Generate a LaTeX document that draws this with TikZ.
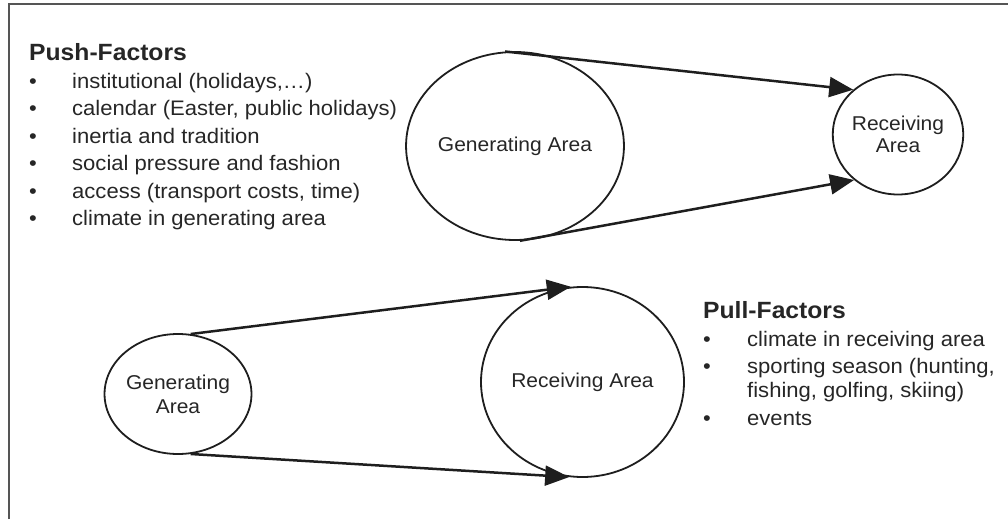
\documentclass[tikz,border=0pt]{standalone}
\usepackage{fontspec}
\setmainfont{Liberation Sans}
\newfontfamily\bodyfont[FakeStretch=1.05]{Liberation Sans}
\usetikzlibrary{arrows.meta,shapes.geometric}

\definecolor{ink}{HTML}{1E1E1E}
\definecolor{txt}{HTML}{262626}
\definecolor{framegray}{HTML}{555555}

\tikzset{
  frame/.style={draw=framegray, line width=2.2pt},
  area/.style={ellipse, draw=ink, line width=1.8pt, inner sep=0pt,
    align=center, text=txt, font=\bodyfont\fontsize{20}{22}\selectfont},
  bigarea/.style={area, minimum width=204pt, minimum height=188pt},
  smallarea/.style={area, minimum width=114pt, minimum height=120pt},
  flow/.style={draw=ink, line width=2.5pt,
    -{Triangle[length=24pt, width=20pt]}},
  heading/.style={anchor=base west, inner sep=0pt, text=txt,
    font=\bodyfont\fontsize{23.5}{26}\selectfont\bfseries},
  item/.style={anchor=base west, inner sep=0pt, text=txt,
    font=\bodyfont\fontsize{21}{24}\selectfont},
  dot/.style={anchor=base, inner sep=0pt, text=txt,
    font=\bodyfont\fontsize{21}{24}\selectfont}
}

\begin{document}
\begin{tikzpicture}[x=1pt, y=-1pt]
\useasboundingbox (0,0) rectangle (1008,519);

% frame (top and left edges)
\draw[frame] (9,519) -- (9,4) -- (1008,4);

% push factors
\node[heading] (pushhead) at (29,60) {Push-Factors};
\node[dot]  (pushdot1)  at (33,88)   {•};
\node[item] (pushitem1) at (72,88)   {institutional (holidays,\dots)};
\node[dot]  (pushdot2)  at (33,115.5) {•};
\node[item] (pushitem2) at (72,115.5) {calendar (Easter, public holidays)};
\node[dot]  (pushdot3)  at (33,143)  {•};
\node[item] (pushitem3) at (72,143)  {inertia and tradition};
\node[dot]  (pushdot4)  at (33,170.5) {•};
\node[item] (pushitem4) at (72,170.5) {social pressure and fashion};
\node[dot]  (pushdot5)  at (33,198)  {•};
\node[item] (pushitem5) at (72,198)  {access (transport costs, time)};
\node[dot]  (pushdot6)  at (33,225.5) {•};
\node[item] (pushitem6) at (72,225.5) {climate in generating area};

% upper pair: large generating area, small receiving area
\node[bigarea] (genA) at (515,146) {Generating Area};
\node[smallarea] (recA) at (898,134.5) {Receiving\\Area};
\draw[flow] (genA.96) -- (recA.135);
\draw[flow] (genA.273) -- (recA.226);

% lower pair: small generating area, large receiving area
\node[smallarea] (genB) at (178,394) {Generating\\[2pt]Area};
\node[bigarea, minimum width=203pt, minimum height=190pt] (recB) at (582.5,382) {Receiving Area};
\draw[flow] (genB.78) -- (recB.97.6);
\draw[flow] (genB.282) -- (recB.262.4);

% pull factors
\node[heading] (pullhead)   at (703,318) {Pull-Factors};
\node[dot]  (pulldot1)   at (707,346)   {•};
\node[item] (pullitem1)  at (747,346)   {climate in receiving area};
\node[dot]  (pulldot2)   at (707,373.5) {•};
\node[item] (pullitem2)  at (747,373.5) {sporting season (hunting,};
\node[item] (pullitem2b) at (747,397.5) {fishing, golfing, skiing)};
\node[dot]  (pulldot3)   at (707,425)   {•};
\node[item] (pullitem3)  at (747,425)   {events};
\end{tikzpicture}
\end{document}
